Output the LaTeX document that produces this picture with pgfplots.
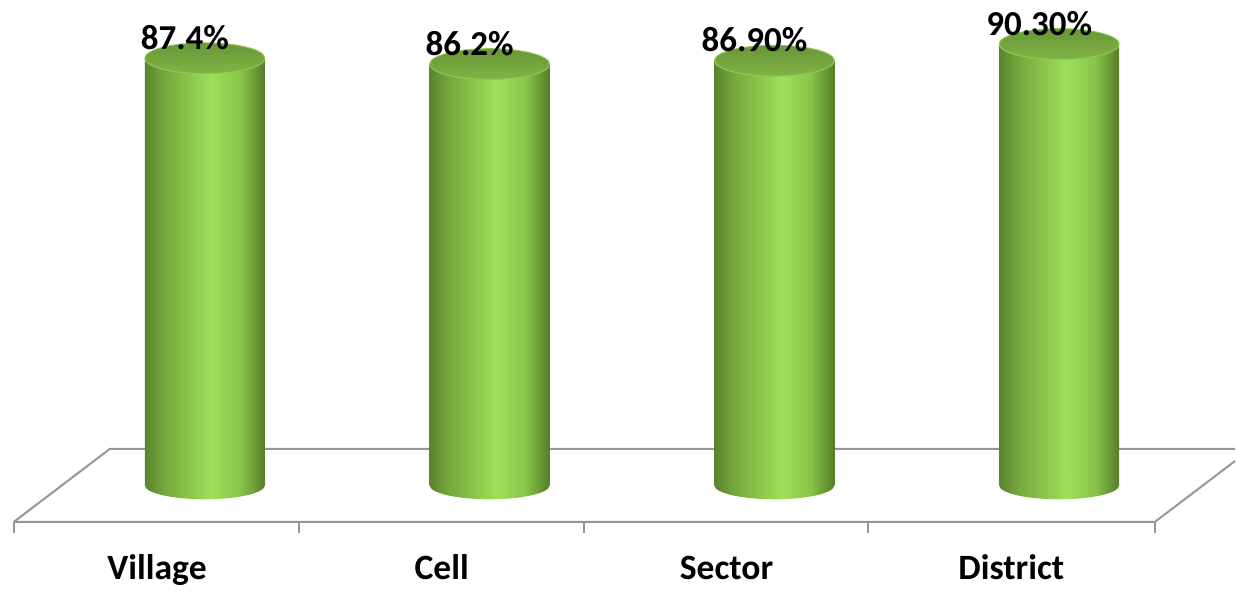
\documentclass[border=0pt]{standalone}
\usepackage{fontspec}
\setmainfont{Carlito}
\usepackage{pgfplots}
\pgfplotsset{compat=1.18}
\definecolor{cylA}{RGB}{90,132,46}
\definecolor{cylB}{RGB}{118,168,60}
\definecolor{cylC}{RGB}{158,224,90}
\definecolor{cylD}{RGB}{136,196,72}
\definecolor{cylE}{RGB}{86,124,40}
\definecolor{capTop}{RGB}{104,150,54}
\definecolor{capBot}{RGB}{128,180,70}
\definecolor{capRim}{RGB}{146,200,84}
\definecolor{floorgray}{RGB}{150,150,150}
\pgfdeclarehorizontalshading{cylshade}{100bp}{color(0bp)=(cylA); color(25bp)=(cylA); color(33bp)=(cylB); color(53bp)=(cylC); color(65bp)=(cylD); color(75bp)=(cylE); color(100bp)=(cylE)}
\pgfdeclareverticalshading{capshade}{100bp}{color(0bp)=(capBot); color(25bp)=(capBot); color(75bp)=(capTop); color(100bp)=(capTop)}
\pgfdeclareplotmark{cyltop}{%
  \pgfpathellipse{\pgfpointorigin}{\pgfqpoint{30pt}{0pt}}{\pgfqpoint{0pt}{7.7pt}}%
  \pgfshadepath{capshade}{0}%
  \pgfsetstrokecolor{capRim}\pgfsetlinewidth{0.5pt}%
  \pgfusepath{stroke}}
\pgfdeclareplotmark{cylbot}{%
  \pgfpathellipse{\pgfpointorigin}{\pgfqpoint{30pt}{0pt}}{\pgfqpoint{0pt}{7pt}}%
  \pgfshadepath{cylshade}{0}%
  \pgfusepath{discard}}
\pgfplotsset{cyl/.style={ybar, bar width=60pt, bar shift=0pt, draw=none, shade, shading=cylshade}}
\begin{document}
\begin{tikzpicture}
\begin{axis}[
  set layers,
  scale only axis, width=618pt, height=295pt,
  xmin=-0.7193, xmax=3.6175, ymin=-21.37, ymax=99.28,
  clip=false,
  axis line style={draw=none},
  major tick length=0pt,
  ytick=\empty,
  xtick={-0.168,0.832,1.832,2.832},
  xticklabels={Village,Cell,Sector,District},
  x tick label style={anchor=base, yshift=5pt, font=\fontsize{17.8pt}{20pt}\selectfont\bfseries, text=black},
]
\path (rel axis cs:0,0) rectangle (rel axis cs:1,1);
\draw[on layer=axis background, floorgray, line width=1pt] (axis cs:-0.6702,-7.464) -- (axis cs:3.3368,-7.464) -- (axis cs:3.6175,4.97);
\draw[on layer=axis background, floorgray, line width=1pt] (axis cs:-0.6702,-7.464) -- (axis cs:-0.3333,7.464) -- (axis cs:3.6175,7.464);
\draw[on layer=axis background, floorgray, line width=1pt] (axis cs:-0.6702,-7.464) -- (axis cs:-0.6702,-9.71);
\draw[on layer=axis background, floorgray, line width=1pt] (axis cs:0.3298,-7.464) -- (axis cs:0.3298,-9.71);
\draw[on layer=axis background, floorgray, line width=1pt] (axis cs:1.3298,-7.464) -- (axis cs:1.3298,-9.71);
\draw[on layer=axis background, floorgray, line width=1pt] (axis cs:2.3298,-7.464) -- (axis cs:2.3298,-9.71);
\draw[on layer=axis background, floorgray, line width=1pt] (axis cs:3.3368,-7.464) -- (axis cs:3.3368,-9.71);
\addplot[on layer=pre main, only marks, mark=cylbot] coordinates {(0,0) (1,0) (2,0) (3,0)};
\addplot[cyl] coordinates {(0,87.4)};
\addplot[cyl] coordinates {(1,86.2)};
\addplot[cyl] coordinates {(2,86.9)};
\addplot[cyl] coordinates {(3,90.3)};
\addplot[only marks, mark=cyltop, nodes near coords, point meta=explicit symbolic,
  every node near coord/.append style={anchor=base, xshift=-10pt, yshift=4.5pt, font=\fontsize{17.5pt}{20pt}\selectfont\bfseries, text=black}]
  coordinates {(0,87.4) [87.4\%] (1,86.2) [86.2\%] (2,86.9) [86.90\%] (3,90.3) [90.30\%]};
\end{axis}
\end{tikzpicture}
\end{document}
